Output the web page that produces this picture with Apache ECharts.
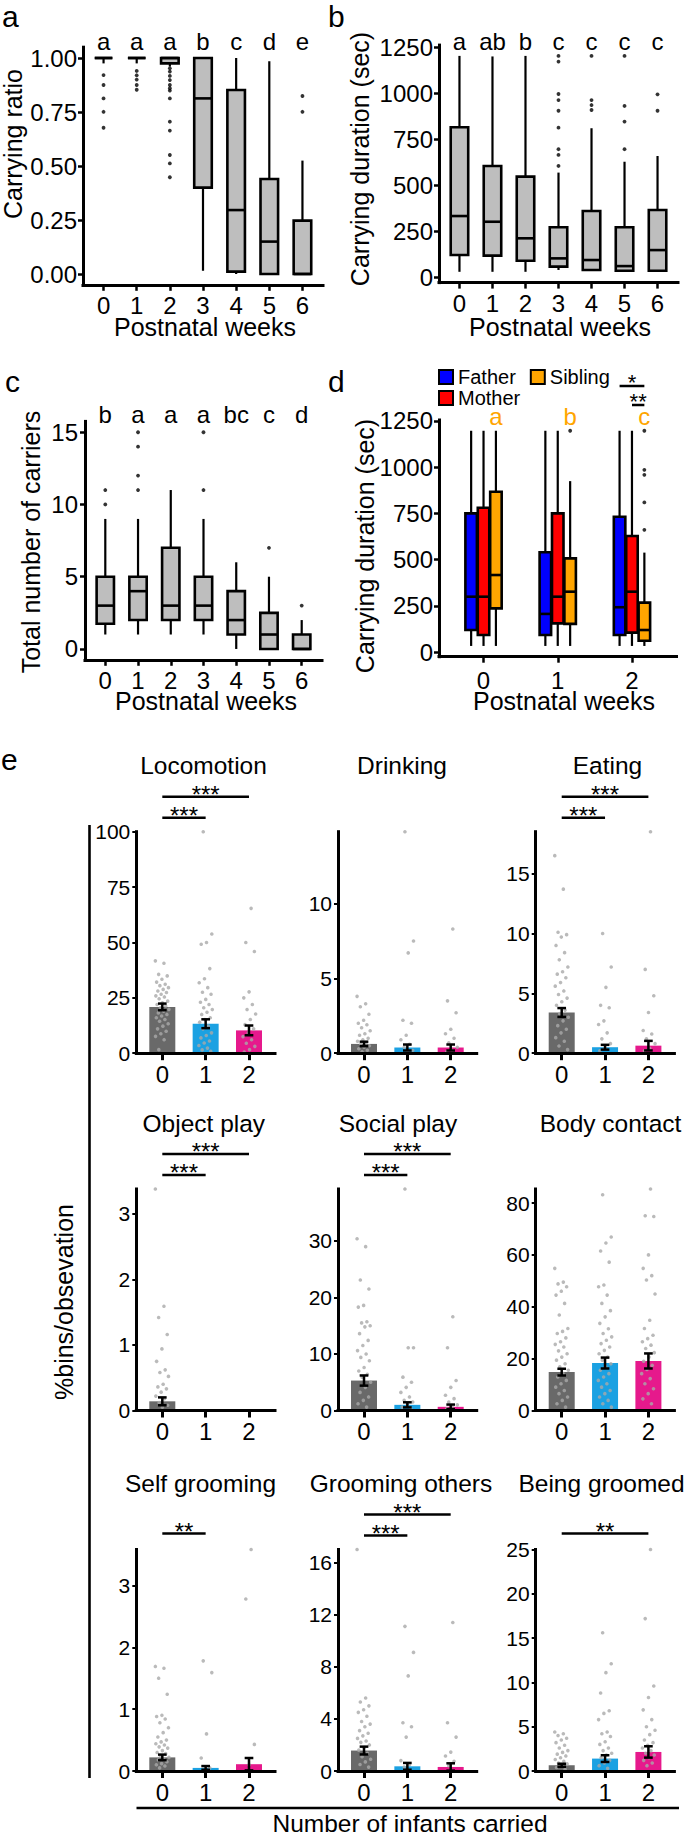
<!DOCTYPE html>
<html>
<head>
<meta charset="utf-8">
<script src="https://cdn.jsdelivr.net/npm/echarts@6.0.0/dist/echarts.min.js"></script>
<style>
html,body{margin:0;padding:0;background:#ffffff;}
#chart{width:685px;height:1838px;}
</style>
</head>
<body>
<div id="chart"></div>
<script>
// ================= DATA =================
const weeks = [0, 1, 2, 3, 4, 5, 6];

// a: carrying ratio, box stats [min, Q1, median, Q3, max]
const ratioStats = [
  [0.975, 1, 1, 1, 1],
  [0.975, 1, 1, 1, 1],
  [0.96, 0.975, 1, 1, 1],
  [0.015, 0.40, 0.813, 1, 1],
  [0, 0.011, 0.296, 0.852, 1],
  [0, 0, 0.15, 0.44, 0.985],
  [0, 0, 0, 0.247, 0.525]
];
const ratioOutliers = [[0,0.921],[0,0.875],[0,0.813],[0,0.751],[0,0.677],
  [1,0.94],[1,0.92],[1,0.90],[1,0.875],[1,0.853],
  [2,0.952],[2,0.937],[2,0.917],[2,0.898],[2,0.875],[2,0.86],[2,0.849],[2,0.813],[2,0.705],[2,0.664],[2,0.551],[2,0.512],[2,0.448],
  [6,0.824],[6,0.751]];
const ratioLetters = ['a','a','a','b','c','d','e'];
const ratioTicks = [0, 0.25, 0.5, 0.75, 1];

// b: carrying duration (sec)
const durStats = [
  [30, 121, 333, 815, 1203],
  [30, 118, 302, 605, 1200],
  [30, 90, 212, 547, 1203],
  [40, 58, 103, 272, 569],
  [40, 40, 94, 360, 810],
  [36, 36, 61, 272, 628],
  [36, 36, 148, 366, 659]
];
const durOutliers = [[3,1203],[3,1172],[3,996],[3,963],[3,905],[3,813],[3,696],[3,665],[3,605],
  [4,1203],[4,963],[4,936],[4,909],
  [5,1203],[5,931],[5,846],[5,696],
  [6,994],[6,905]];
const durLetters = ['a','ab','b','c','c','c','c'];
const durTicks = [0, 250, 500, 750, 1000, 1250];

// c: total number of carriers
const carrierStats = [
  [1, 1.75, 3, 5, 9],
  [1, 2, 4, 5, 9],
  [1, 2, 3, 7, 11],
  [1, 2, 3, 5, 9],
  [0, 1, 2, 4, 6],
  [0, 0, 1, 2.5, 5],
  [0, 0, 0, 1, 2]
];
const carrierOutliers = [[0,11],[0,10],[1,15],[1,14],[1,12],[1,11],[3,15],[3,11],[5,7],[6,3]];
const carrierLetters = ['b','a','a','a','bc','c','d'];
const carrierTicks = [0, 5, 10, 15];

// d: carrying duration by carrier type
const dWeeks = [0, 1, 2];
const carrierTypes = ['Father', 'Mother', 'Sibling'];
const fatherStats  = [[34,120,300,750,1196],[34,93,207,540,1196],[34,93,243,732,1196]];
const motherStats  = [[34,93,300,780,1196],[34,156,300,750,1196],[34,106,327,628,1196]];
const siblingStats = [[34,237,417,867,1196],[34,153,327,507,924],[34,62,120,268,538]];
const siblingOutliers = [[1,1196],[2,1196],[2,985],[2,958],[2,809],[2,661]];
const siblingLetters = ['a','b','c'];
const dSig = [['Father','Sibling','*'],['Mother','Sibling','**']];
const dTicks = [0, 250, 500, 750, 1000, 1250];

// e: %bins/observation by number of infants carried
const nCarried = [0, 1, 2];
const eTitles = ['Locomotion','Drinking','Eating','Object play','Social play','Body contact','Self grooming','Grooming others','Being groomed'];

const locoMean = [20.9, 13.3, 10.3];
const locoSE = [1.5, 2.0, 2.2];
const locoDots0 = [41.7,40.6,35.6,34.9,33.4,32.1,31.1,30.5,29.6,28.8,28.1,27.4,26.6,25.9,25.4,24.6,23.5,22.8,22.0,21.3,20.5,19.8,19.0,18.2,17.5,16.8,16.0,15.2,14.4,13.3,12.2,11.0,9.9,8.8,7.6,6.1,1.6];
const locoDots1 = [100,53.8,50,49.2,38.2,33.6,31.8,29.6,27.5,26.6,24.3,23.0,22.0,20.5,19.7,18.5,17.5,16.0,15.2,14.0,12.2,11.0,9.2,8.0,6.9,5.5,4.6,3.5,2.3,1.5,0.8];
const locoDots2 = [65.4,50,45.9,27.7,25.0,22.0,19.7,17.7,15.2,12.9,11.0,9.2,7.5,6.1,4.5,3.1,1.6,0.5];
const locoTicks = [0, 25, 50, 75, 100];
const locoSig = [[0,2,'***'],[0,1,'***']];

const drinkMean = [0.62, 0.38, 0.38];
const drinkSE = [0.15, 0.2, 0.2];
const drinkDots0 = [3.8,3.3,3.1,2.6,2.2,2.0,1.9,1.7,1.5,1.3,1.2,1.0,0.9,0.8,0.7,0.6,0.5,0.4,0.3,0.2,0.1];
const drinkDots1 = [14.8,7.5,6.7,2.2,2.0,1.2,0.9,0.6,0.4,0.2,0.1];
const drinkDots2 = [8.3,3.5,2.7,1.6,1.3,1.0,0.7,0.4,0.2,0.1];
const drinkTicks = [0, 5, 10];
const drinkSig = [];

const eatMean = [3.4, 0.5, 0.63];
const eatSE = [0.37, 0.2, 0.4];
const eatDots0 = [16.5,13.7,10.1,9.9,9.7,9.0,8.4,7.8,7.2,6.8,6.6,6.3,5.9,5.6,5.2,4.9,4.6,4.3,4.0,3.6,3.3,3.0,2.7,2.3,2.0,1.7,1.3,1.0,0.6,0.3];
const eatDots1 = [10.0,7.2,5.5,4.0,3.8,2.7,2.4,1.7,1.2,0.8,0.4,0.2];
const eatDots2 = [18.5,7.0,4.8,3.4,1.9,1.6,1.2,0.8,0.4,0.2];
const eatTicks = [0, 5, 10, 15];
const eatSig = [[0,2,'***'],[0,1,'***']];

const objMean = [0.14, 0, 0];
const objSE = [0.06, 0, 0];
const objDots0 = [3.38,1.59,1.42,1.16,0.94,0.75,0.62,0.58,0.52,0.40,0.36,0.33,0.28,0.22,0.18,0.12,0.08,0.05];
const objDots1 = [];
const objDots2 = [];
const objTicks = [0, 1, 2, 3];
const objSig = [[0,2,'***'],[0,1,'***']];

const socMean = [5.3, 1.0, 0.65];
const socSE = [0.9, 0.45, 0.4];
const socDots0 = [30.4,29.0,23.1,21.5,18.6,18.3,15.7,15.5,15.0,14.8,13.6,12.4,11.5,10.6,10.0,9.4,8.8,7.6,7.0,6.4,5.9,5.0,4.1,3.2,2.4,1.8,1.2,0.6];
const socDots1 = [39.2,11.1,11.1,5.9,5.0,4.1,3.2,2.4,1.8,1.5,1.0,0.6,0.3];
const socDots2 = [16.6,11.1,5.3,4.1,2.7,2.1,1.5,1.0,0.6,0.3];
const socTicks = [0, 10, 20, 30];
const socSig = [[0,2,'***'],[0,1,'***']];

const bodyMean = [14.8, 18.3, 19.1];
const bodySE = [1.3, 2.1, 2.9];
const bodyDots0 = [54.8,49.5,48.8,47.7,46.0,44.5,41.3,36.8,31.6,30.5,29.7,28.0,26.5,25.5,24.5,23.0,21.9,20.6,19.4,18.0,16.8,15.5,14.2,12.9,11.6,10.3,9.0,7.7,6.5,5.2,3.9,2.6,1.3];
const bodyDots1 = [83.2,66.9,64.6,61.5,57.2,48.4,47.7,44.5,41.3,38.5,36.1,33.6,31.5,29.7,28.4,27.1,25.8,24.5,23.2,21.9,20.6,19.4,18.0,16.8,15.5,14.2,12.9,11.6,10.3,9.0,7.7,6.5,5.2,3.9,2.6,1.3];
const bodyDots2 = [85.4,75.1,74.8,60.0,54.8,52.0,50.3,44.9,34.8,31.6,29.0,27.7,26.5,25.2,23.9,22.3,20.6,19.0,17.4,15.8,14.2,12.3,10.3,8.4,6.5,4.5,2.6];
const bodyTicks = [0, 20, 40, 60, 80];
const bodySig = [];

const selfMean = [0.22, 0.05, 0.11];
const selfSE = [0.045, 0.03, 0.1];
const selfDots0 = [1.69,1.66,1.50,1.24,0.90,0.88,0.84,0.78,0.70,0.62,0.55,0.50,0.47,0.44,0.42,0.39,0.37,0.33,0.30,0.28,0.25,0.22,0.20,0.18,0.15,0.12,0.10,0.08,0.05];
const selfDots1 = [1.78,1.59,0.60,0.21,0.05];
const selfDots2 = [3.58,2.78,0.43,0.10];
const selfTicks = [0, 1, 2, 3];
const selfSig = [[0,1,'**']];

const groomOMean = [1.57, 0.36, 0.31];
const groomOSE = [0.3, 0.26, 0.28];
const groomODots0 = [17.0,5.6,5.3,5.0,4.7,4.5,4.2,3.8,3.6,3.4,3.1,2.9,2.7,2.5,2.3,2.2,2.0,1.8,1.6,1.35,1.1,0.9,0.7,0.5,0.3];
const groomODots1 = [11.1,9.1,7.3,3.7,3.4,2.6,0.8,0.5,0.3];
const groomODots2 = [11.4,3.7,2.6,1.45,1.15,0.75,0.4];
const groomOTicks = [0, 4, 8, 12, 16];
const groomOSig = [[0,2,'***'],[0,1,'***']];

const beingMean = [0.65, 1.4, 2.15];
const beingSE = [0.17, 0.38, 0.64];
const beingDots0 = [4.4,4.2,4.0,3.7,3.5,3.2,2.9,2.6,2.3,2.1,1.9,1.7,1.5,1.3,1.1,0.9,0.8,0.6,0.4,0.2];
const beingDots1 = [15.6,12.1,11.1,8.8,6.8,6.5,5.8,4.4,4.2,3.9,3.3,3.0,2.6,2.3,2.0,1.8,1.5,1.2,0.9,0.6,0.3];
const beingDots2 = [25.0,17.2,9.6,8.3,6.9,5.8,5.0,4.6,4.1,3.5,3.2,2.9,2.6,2.3,2.0,1.8,1.5,1.2,0.9,0.6];
const beingTicks = [0, 5, 10, 15, 20, 25];
const beingSig = [[0,2,'**']];

// ================= STYLE / LAYOUT =================
const FF = '"Liberation Sans", Arial, Helvetica, sans-serif';
const BOX_FILL = '#bebebe';
const TYPE_COLORS = {Father: '#0000ff', Mother: '#ff0000', Sibling: '#ffa500'};
const BAR_COLORS = ['#696969', '#1ba1e2', '#e6198c'];
const DOT_COLOR = '#a9a9a9';

const ePanels = [
  [locoMean, locoSE, [locoDots0, locoDots1, locoDots2], locoTicks, locoSig],
  [drinkMean, drinkSE, [drinkDots0, drinkDots1, drinkDots2], drinkTicks, drinkSig],
  [eatMean, eatSE, [eatDots0, eatDots1, eatDots2], eatTicks, eatSig],
  [objMean, objSE, [objDots0, objDots1, objDots2], objTicks, objSig],
  [socMean, socSE, [socDots0, socDots1, socDots2], socTicks, socSig],
  [bodyMean, bodySE, [bodyDots0, bodyDots1, bodyDots2], bodyTicks, bodySig],
  [selfMean, selfSE, [selfDots0, selfDots1, selfDots2], selfTicks, selfSig],
  [groomOMean, groomOSE, [groomODots0, groomODots1, groomODots2], groomOTicks, groomOSig],
  [beingMean, beingSE, [beingDots0, beingDots1, beingDots2], beingTicks, beingSig]
];

const chart = echarts.init(document.getElementById('chart'), null, {renderer: 'svg', width: 685, height: 1838});

const grids = [], xAxes = [], yAxes = [], series = [];

function addGrid(l, t, w, h) {
  grids.push({left: l, top: t, width: w, height: h, containLabel: false, outerBoundsMode: 'none', show: false});
  return grids.length - 1;
}
function axisCfg(gi, min, max, ticks, o) {
  return {
    type: 'value', gridIndex: gi, min: min, max: max, z: o.z || 0,
    axisLine: {show: true, onZero: false, lineStyle: {color: '#000', width: o.lw, cap: 'square'}},
    axisTick: {show: true, customValues: ticks, length: o.tl, lineStyle: {color: '#000', width: o.tw}},
    axisLabel: {show: true, customValues: ticks, formatter: o.fmt || (v => String(v)),
      fontSize: o.fs, lineHeight: o.fs, margin: o.margin, color: '#000', fontFamily: FF, hideOverlap: false},
    splitLine: {show: false}, splitArea: {show: false}
  };
}
function padRange(vals) {
  const lo = Math.min(...vals), hi = Math.max(...vals), r = hi - lo;
  return [lo - 0.05 * r, hi + 0.05 * r];
}
function boxRender(offset, boxW, fill) {
  return function (params, api) {
    const x = api.value(0) + offset;
    const c = v => api.coord([x, v]);
    const pMin = c(api.value(1)), pQ1 = c(api.value(2)), pMed = c(api.value(3)), pQ3 = c(api.value(4)), pMax = c(api.value(5));
    const w = api.size([boxW, 0])[0];
    const x0 = pMed[0] - w / 2;
    const ls = {stroke: '#000', lineWidth: 2.2};
    return {type: 'group', children: [
      {type: 'line', shape: {x1: pMin[0], y1: pMin[1], x2: pQ1[0], y2: pQ1[1]}, style: ls},
      {type: 'line', shape: {x1: pQ3[0], y1: pQ3[1], x2: pMax[0], y2: pMax[1]}, style: ls},
      {type: 'rect', shape: {x: x0, y: pQ3[1], width: w, height: pQ1[1] - pQ3[1]}, style: {fill: fill, stroke: '#000', lineWidth: 2.6}},
      {type: 'line', shape: {x1: x0, y1: pMed[1], x2: x0 + w, y2: pMed[1]}, style: {stroke: '#000', lineWidth: 2.6}}
    ]};
  };
}
function boxSeries(gi, name, xs, stats, offset, boxW, fill) {
  return {
    type: 'custom', name: name, xAxisIndex: gi, yAxisIndex: gi, clip: false, silent: true,
    itemStyle: {color: fill},
    encode: {x: 0, y: [1, 2, 3, 4, 5]},
    data: stats.map((s, i) => [xs[i]].concat(s)),
    renderItem: boxRender(offset, boxW, fill), z: 2
  };
}
function outlierSeries(gi, pts, offset) {
  return {type: 'scatter', xAxisIndex: gi, yAxisIndex: gi, silent: true, symbol: 'circle', symbolSize: 3.8,
    itemStyle: {color: '#000'}, data: pts.map(p => [p[0] + offset, p[1]]), z: 3};
}

// ---- panels a, b, c (boxplots by week) ----
const wkRange = [-0.62, 6.62];
const weekAxisOpts = {lw: 3, tl: 6, tw: 2.5, fs: 24, margin: 9};
function boxPanel(rect, stats, outliers, ticks, fmt, ylabMargin) {
  const gi = addGrid(rect[0], rect[1], rect[2], rect[3]);
  const yr = padRange(stats.flat().concat(outliers.map(p => p[1])));
  xAxes.push(axisCfg(gi, wkRange[0], wkRange[1], weeks, weekAxisOpts));
  yAxes.push(axisCfg(gi, yr[0], yr[1], ticks, {lw: 3, tl: 5, tw: 2.5, fs: 24, margin: ylabMargin, fmt: fmt}));
  series.push(boxSeries(gi, 'box' + gi, weeks, stats, 0, 0.53, BOX_FILL));
  series.push(outlierSeries(gi, outliers, 0));
  return gi;
}
const gA = boxPanel([83, 47.2, 240, 237.6], ratioStats, ratioOutliers, ratioTicks, v => v.toFixed(2), 6);
const gB = boxPanel([439, 45.1, 239, 237.5], durStats, durOutliers, durTicks, v => String(v), 6);
const gC = boxPanel([85, 421.4, 237, 238.4], carrierStats, carrierOutliers, carrierTicks, v => String(v), 7);

// ---- panel d ----
const typeOffsets = {Father: -0.167, Mother: 0, Sibling: 0.167};
const gD = addGrid(439, 420, 237.5, 236.7);
{
  const allD = fatherStats.flat().concat(motherStats.flat(), siblingStats.flat(), siblingOutliers.map(p => p[1]));
  const yr = padRange(allD);
  xAxes.push(axisCfg(gD, -0.6, 2.6, dWeeks, {lw: 3, tl: 6, tw: 2.5, fs: 24, margin: 12}));
  yAxes.push(axisCfg(gD, yr[0], yr[1], dTicks, {lw: 3, tl: 5, tw: 2.5, fs: 24, margin: 6}));
  const statsByType = {Father: fatherStats, Mother: motherStats, Sibling: siblingStats};
  carrierTypes.forEach(t => {
    series.push(boxSeries(gD, t, dWeeks, statsByType[t], typeOffsets[t], 0.155, TYPE_COLORS[t]));
  });
  series.push(outlierSeries(gD, siblingOutliers, typeOffsets.Sibling));
}

// ---- panel e ----
const eLeft = [136.3, 338, 535.7], eTop = [831.7, 1189, 1549.5], eW = 138.7, eH = 221.5;
const eRange = [-0.6, 2.6];
const eTitleX = [203.5, 402, 607.5, 203.8, 398, 610.5, 200.5, 401, 601.5];
const jit = i => (((i * 0.618034) % 1) - 0.5) * 0.32;
const eGrids = [];
ePanels.forEach((p, k) => {
  const [mean, se, dots, ticks] = p;
  const r = Math.floor(k / 3), c = k % 3;
  const gi = addGrid(eLeft[c], eTop[r], eW, eH);
  eGrids.push(gi);
  const yMax = Math.max(...dots.flat(), ...mean.map((m, i) => m + se[i]));
  xAxes.push(axisCfg(gi, eRange[0], eRange[1], nCarried, {lw: 3, tl: 7, tw: 3, fs: 24, margin: 9, z: 5}));
  yAxes.push(axisCfg(gi, 0, yMax, ticks, {lw: 3, tl: 4, tw: 2, fs: 21, margin: 6, z: 5}));
  const unit = eW / (eRange[1] - eRange[0]);
  series.push({type: 'bar', xAxisIndex: gi, yAxisIndex: gi, silent: true, barWidth: 0.6 * unit, z: 2,
    data: mean.map((m, i) => ({value: [nCarried[i], m], itemStyle: {color: BAR_COLORS[i]}}))});
  const pts = [];
  dots.forEach((arr, g) => arr.forEach((v, i) => pts.push([nCarried[g] + jit(i + g * 7), v])));
  series.push({type: 'scatter', xAxisIndex: gi, yAxisIndex: gi, silent: true, symbol: 'circle', symbolSize: 3.6,
    itemStyle: {color: DOT_COLOR}, data: pts, z: 3});
  series.push({type: 'custom', xAxisIndex: gi, yAxisIndex: gi, silent: true, clip: false, z: 4,
    encode: {x: 0, y: [1, 2]},
    data: mean.map((m, i) => [nCarried[i], m, se[i]]),
    renderItem: function (params, api) {
      const x = api.value(0), m = api.value(1), s = api.value(2);
      if (m === 0 && s === 0) return null;
      const top = api.coord([x, m + s]), bot = api.coord([x, Math.max(0, m - s)]);
      const cw = api.size([0.2, 0])[0] / 2;
      const st = {stroke: '#000', lineWidth: 2.5};
      return {type: 'group', children: [
        {type: 'line', shape: {x1: top[0], y1: top[1], x2: bot[0], y2: bot[1]}, style: st},
        {type: 'line', shape: {x1: top[0] - cw, y1: top[1], x2: top[0] + cw, y2: top[1]}, style: st},
        {type: 'line', shape: {x1: bot[0] - cw, y1: bot[1], x2: bot[0] + cw, y2: bot[1]}, style: st}
      ]};
    }});
});

chart.setOption({
  animation: false,
  backgroundColor: '#ffffff',
  textStyle: {fontFamily: FF},
  grid: grids, xAxis: xAxes, yAxis: yAxes, series: series,
  legend: [
    {data: ['Father', 'Sibling'], left: 438, top: 367, orient: 'horizontal', icon: 'rect', itemWidth: 14, itemHeight: 14,
      itemGap: 14, padding: 0, selectedMode: false, itemStyle: {borderColor: '#000', borderWidth: 2},
      textStyle: {fontSize: 20, color: '#000', fontFamily: FF}},
    {data: ['Mother'], left: 438, top: 388, orient: 'horizontal', icon: 'rect', itemWidth: 14, itemHeight: 14,
      padding: 0, selectedMode: false, itemStyle: {borderColor: '#000', borderWidth: 2},
      textStyle: {fontSize: 20, color: '#000', fontFamily: FF}}
  ]
});

// ================= ANNOTATIONS =================
const gfx = [];
const px = (gi, x, y) => chart.convertToPixel({gridIndex: gi}, [x, y]);
function T(x, baseline, text, size, opt) {
  opt = opt || {};
  return {type: 'text', x: x, y: baseline - 0.35 * size, silent: true, z: 10,
    style: {text: text, fontSize: size, lineHeight: size, fontFamily: FF, fill: opt.fill || '#000', align: opt.align || 'center', verticalAlign: 'middle'}};
}
function R(cx, cy, text, size) {
  return {type: 'text', x: cx, y: cy, rotation: Math.PI / 2, silent: true, z: 10,
    style: {text: text, fontSize: size, lineHeight: size, fontFamily: FF, fill: '#000', align: 'center', verticalAlign: 'middle'}};
}
function L(x1, y1, x2, y2, w) {
  return {type: 'line', silent: true, z: 10, shape: {x1: x1, y1: y1, x2: x2, y2: y2}, style: {stroke: '#000', lineWidth: w || 2.5}};
}

// panel letters
gfx.push(T(2, 26.5, 'a', 30, {align: 'left'}));
gfx.push(T(328, 26.5, 'b', 30, {align: 'left'}));
gfx.push(T(5, 392, 'c', 30, {align: 'left'}));
gfx.push(T(328, 392, 'd', 30, {align: 'left'}));
gfx.push(T(1, 770, 'e', 30, {align: 'left'}));

// group letters
weeks.forEach((w, i) => {
  gfx.push(T(px(gA, w, 0)[0], 50, ratioLetters[i], 24));
  gfx.push(T(px(gB, w, 0)[0], 50, durLetters[i], 24));
  gfx.push(T(px(gC, w, 0)[0], 423.3, carrierLetters[i], 24));
});
dWeeks.forEach((w, i) => {
  gfx.push(T(px(gD, w + typeOffsets.Sibling, 0)[0], 424.5, siblingLetters[i], 24, {fill: '#ffa500'}));
});
// d significance (week 2)
const dSigY = [386, 405];
dSig.forEach((s, k) => {
  const xa = px(gD, 2 + typeOffsets[s[0]], 0)[0], xb = px(gD, 2 + typeOffsets[s[1]], 0)[0];
  gfx.push(L(xa, dSigY[k], xb, dSigY[k], 2.5));
  gfx.push(T((xa + xb) / 2, dSigY[k] + 4.5, s[2], 22));
});

// axis titles
gfx.push(T(205, 335.5, 'Postnatal weeks', 25));
gfx.push(T(560, 335.5, 'Postnatal weeks', 25));
gfx.push(T(206, 710, 'Postnatal weeks', 25));
gfx.push(T(564, 710, 'Postnatal weeks', 25));
gfx.push(R(13, 144, 'Carrying ratio', 25));
gfx.push(R(360, 159, 'Carrying duration (sec)', 25));
gfx.push(R(31, 542, 'Total number of carriers', 25));
gfx.push(R(365, 546, 'Carrying duration (sec)', 25));

// panel e titles and significance bars
const titleBase = [774.5, 1131.7, 1491.7];
ePanels.forEach((p, k) => {
  const gi = eGrids[k], r = Math.floor(k / 3);
  const sig = p[4];
  gfx.push(T(eTitleX[k], titleBase[r], eTitles[k], 24.5));
  const ys = sig.length === 2 ? [eTop[r] - 35, eTop[r] - 14] : [eTop[r] - 16];
  sig.forEach((s, j) => {
    const xa = px(gi, s[0], 0)[0], xb = px(gi, s[1], 0)[0];
    gfx.push(L(xa, ys[j], xb, ys[j], 2.6));
    gfx.push(T((xa + xb) / 2, ys[j] + 6, s[2], 24));
  });
});
gfx.push(L(89.5, 825, 89.5, 1778, 2.6));
gfx.push(L(136.5, 1808, 679, 1808, 2.6));
gfx.push(R(64, 1302, '%bins/obsevation', 25));
gfx.push(T(410, 1832.5, 'Number of infants carried', 24.5));

chart.setOption({graphic: {elements: gfx}});
</script>
</body>
</html>
